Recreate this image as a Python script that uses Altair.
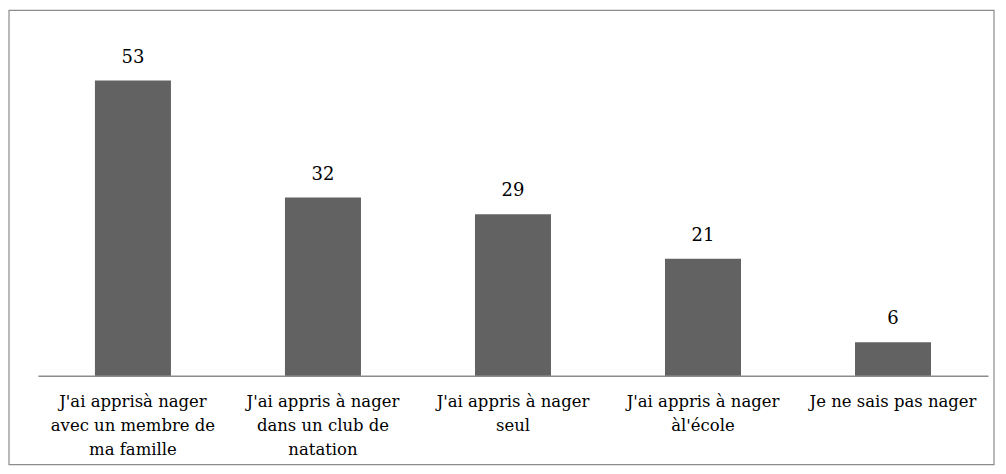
import altair as alt
import pandas as pd

categories = [
    "J'ai apprisà nager\navec un membre de\nma famille",
    "J'ai appris à nager\ndans un club de\nnatation",
    "J'ai appris à nager\nseul",
    "J'ai appris à nager\nàl'école",
    "Je ne sais pas nager",
]
values = [53, 32, 29, 21, 6]

df = pd.DataFrame({"cat": categories, "val": values})

FONT = "DejaVu Serif"

x = alt.X(
    "cat:N",
    sort=categories,
    title=None,
    scale=alt.Scale(paddingInner=0.6, paddingOuter=0.3),
    axis=alt.Axis(
        labelAngle=0,
        labelExpr="split(datum.label, '\\n')",
        labelFont=FONT,
        labelFontSize=16.5,
        labelColor="#000000",
        labelLineHeight=24,
        labelPadding=18,
        labelBaseline="top",
        ticks=False,
        domainColor="#8c8c8c",
        domainWidth=1.5,
        labelLimit=300,
    ),
)
y = alt.Y(
    "val:Q",
    scale=alt.Scale(domain=[0, 62], nice=False),
    axis=None,
)

border = alt.Chart(df).mark_rect(
    fill=None, stroke="#8c8c8c", strokeWidth=1.2
).encode(
    x=alt.value(-29), x2=alt.value(958), y=alt.value(-20), y2=alt.value(435)
).transform_filter("datum.val == 53")

bars = alt.Chart(df).mark_bar(color="#626262").encode(x=x, y=y)

text = alt.Chart(df).mark_text(
    font=FONT, fontSize=18, color="#000000", baseline="middle", dy=-23
).encode(x=x, y=y, text="val:Q")

chart = alt.layer(border, bars, text).properties(
    width=952, height=346,
    padding={"left": 30, "top": 22, "right": 10, "bottom": 100},
    autosize=alt.AutoSizeParams(type="none"),
).configure_view(stroke=None)

chart.save("out.html", embed_options={"renderer": "svg", "actions": False})
